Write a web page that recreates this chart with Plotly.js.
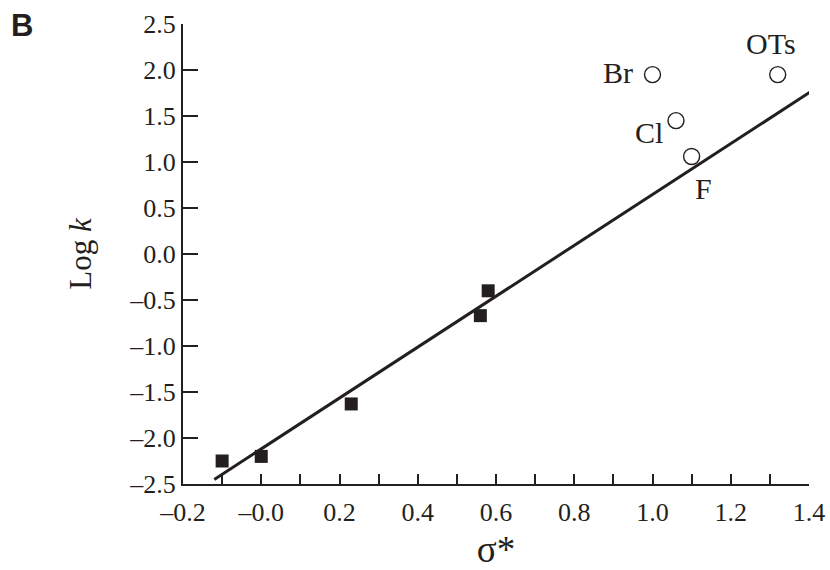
<!DOCTYPE html>
<html>
<head>
<meta charset="utf-8">
<script src="https://cdn.plot.ly/plotly-3.0.1.min.js"></script>
<style>html,body{margin:0;padding:0;background:#fff;}#chart{width:830px;height:570px;}</style>
</head>
<body>
<div id="chart"></div>
<script>
// Filled squares (fitted series)
var squareX = [-0.10, 0.00, 0.23, 0.56, 0.58];
var squareY = [-2.25, -2.20, -1.63, -0.67, -0.40];
// Open circles (labelled leaving groups)
var circleLabels = ['Br', 'Cl', 'F', 'OTs'];
var circleX = [1.00, 1.06, 1.10, 1.32];
var circleY = [1.95, 1.45, 1.06, 1.95];
// Regression line endpoints
var fitX = [-0.12, 1.41];
var fitY = [-2.45, 1.78];
// Tick labels
var xTickVals = [-0.2,-0.1,0.0,0.1,0.2,0.3,0.4,0.5,0.6,0.7,0.8,0.9,1.0,1.1,1.2,1.3,1.4];
var xTickText = ['–0.2','','–0.0','','0.2','','0.4','','0.6','','0.8','','1.0','','1.2','','1.4'];
var yTickVals = [-2.5,-2.0,-1.5,-1.0,-0.5,0.0,0.5,1.0,1.5,2.0,2.5];
var yTickText = ['–2.5','–2.0','–1.5','–1.0','–0.5','0.0','0.5','1.0','1.5','2.0','2.5'];

var ink = '#231f20';
var serif = 'Liberation Serif, Times New Roman, serif';

var labelShift = {
  'Br':  {xanchor:'right', xshift:-18, yshift:2},
  'Cl':  {xanchor:'right', xshift:-11, yshift:-12},
  'F':   {xanchor:'center', xshift:12, yshift:-32},
  'OTs': {xanchor:'center', xshift:-7, yshift:31}
};

var annotations = circleLabels.map(function(t, i){
  var s = labelShift[t];
  return {x: circleX[i], y: circleY[i], xref:'x', yref:'y', text: t, showarrow:false,
    xanchor: s.xanchor, yanchor:'middle', xshift: s.xshift, yshift: s.yshift,
    font:{family: serif, size: 30, color: ink}};
});
annotations.push({x:0, y:1, xref:'paper', yref:'paper', xshift:-174, yshift:-1, text:'<b>B</b>',
  showarrow:false, xanchor:'left', yanchor:'middle',
  font:{family:'Liberation Sans, Arial, sans-serif', size:31, color: ink}});

var traces = [
  {x: fitX, y: fitY, mode:'lines', line:{color: ink, width:3}, hoverinfo:'skip', showlegend:false},
  {x: squareX, y: squareY, mode:'markers', marker:{symbol:'square', size:13, color: ink}, showlegend:false},
  {x: circleX, y: circleY, mode:'markers', marker:{symbol:'circle-open', size:16, color: ink, line:{width:1.4, color: ink}}, showlegend:false}
];

var layout = {
  width: 830, height: 570,
  margin: {l:183, r:21, t:24, b:86},
  paper_bgcolor:'#fff', plot_bgcolor:'#fff',
  showlegend:false,
  xaxis: {
    range:[-0.2, 1.4], showgrid:false, zeroline:false,
    showline:true, linecolor: ink, linewidth:2,
    ticks:'inside', ticklen:10, tickwidth:2, tickcolor: ink,
    tickmode:'array', tickvals: xTickVals, ticktext: xTickText,
    ticklabelstandoff: 4,
    tickfont:{family: serif, size:26, color: ink},
    title:{text:'σ*', font:{family: serif, size:37, color: ink}, standoff:10}
  },
  yaxis: {
    range:[-2.5, 2.5], showgrid:false, zeroline:false,
    showline:true, linecolor: ink, linewidth:2,
    ticks:'inside', ticklen:15, tickwidth:2, tickcolor: ink,
    tickmode:'array', tickvals: yTickVals, ticktext: yTickText,
    tickfont:{family: serif, size:26, color: ink},
    title:{text:'Log <i>k</i>', font:{family: serif, size:31, color: ink}, standoff:28}
  },
  annotations: annotations
};

Plotly.newPlot('chart', traces, layout, {displayModeBar:false, staticPlot:true});
</script>
</body>
</html>
